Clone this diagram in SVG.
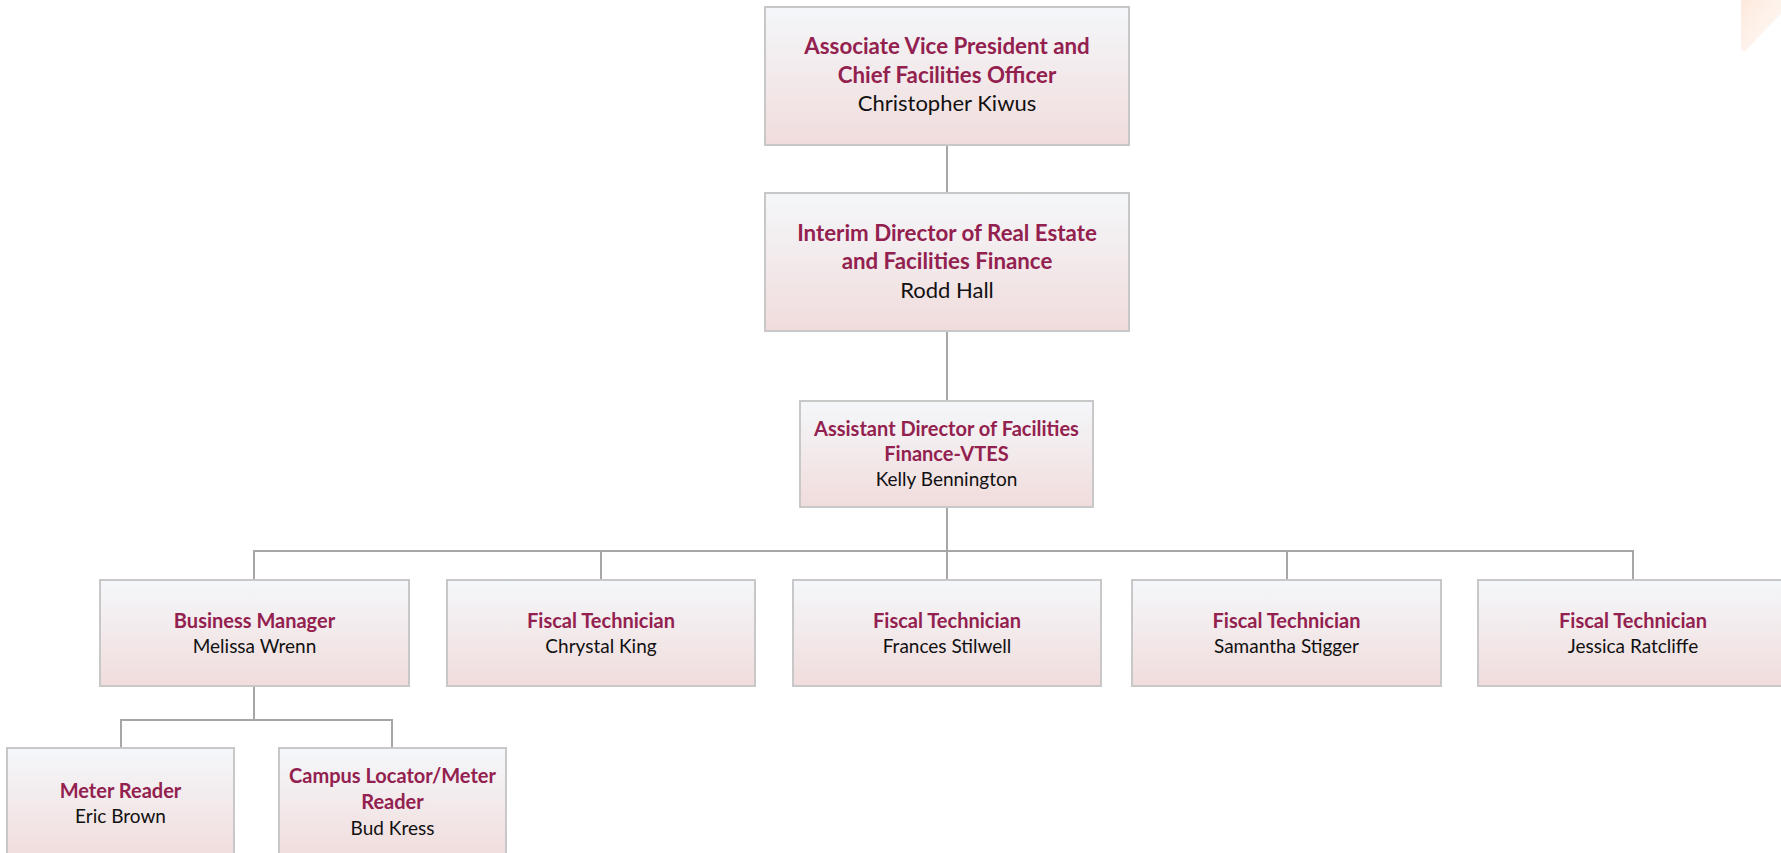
<svg xmlns="http://www.w3.org/2000/svg" width="1781" height="853" viewBox="0 0 1781 853">
<defs>
<linearGradient id="g" x1="0" y1="0" x2="0" y2="1">
<stop offset="0" stop-color="#f4f7fa"/>
<stop offset="1" stop-color="#f1dcdc"/>
</linearGradient>
<linearGradient id="deco" x1="0" y1="0" x2="1" y2="1">
<stop offset="0" stop-color="#fbd9c4" stop-opacity="0.6"/>
<stop offset="1" stop-color="#fde9de" stop-opacity="0.25"/>
</linearGradient>
<style>
.box{fill:url(#g);stroke:#c8c8c8;stroke-width:2}
.t{font-family:Lato,"Liberation Sans",sans-serif;font-weight:bold;fill:#93214f;text-anchor:middle}
.n{font-family:Lato,"Liberation Sans",sans-serif;fill:#111;text-anchor:middle}
.bt{font-size:22.3px}
.bn{font-size:22px}
.st{font-size:20px}
.sn{font-size:19px}
.con{fill:none;stroke:#a6a6a6;stroke-width:2}
</style>
</defs>
<rect width="1781" height="853" fill="#ffffff"/>
<polygon points="1741,0 1781,0 1781,14 1744,52 1741,48" fill="url(#deco)"/>
<g id="connectors">
<path class="con" d="M947,145 V193"/>
<path class="con" d="M947,331 V401"/>
<path class="con" d="M947,507 V551"/>
<path class="con" d="M254,580 V551 H1633 V580"/>
<path class="con" d="M601,551 V580"/>
<path class="con" d="M947,551 V580"/>
<path class="con" d="M1287,551 V580"/>
<path class="con" d="M254,686 V720"/>
<path class="con" d="M121,748 V720 H392 V748"/>
</g>
<g id="avp">
<rect class="box" x="765" y="7" width="364" height="138"/>
<text class="t bt" x="947" y="54">Associate Vice President and</text>
<text class="t bt" x="947" y="83">Chief Facilities Officer</text>
<text class="n bn" x="947" y="111">Christopher Kiwus</text>
</g>
<g id="interim">
<rect class="box" x="765" y="193" width="364" height="138"/>
<text class="t bt" x="947" y="241">Interim Director of Real Estate</text>
<text class="t bt" x="947" y="269">and Facilities Finance</text>
<text class="n bn" x="947" y="298">Rodd Hall</text>
</g>
<g id="asst">
<rect class="box" x="800" y="401" width="293" height="106"/>
<text class="t st" x="946.5" y="436">Assistant Director of Facilities</text>
<text class="t st" x="946.5" y="461">Finance-VTES</text>
<text class="n sn" x="946.5" y="486">Kelly Bennington</text>
</g>
<g id="bm">
<rect class="box" x="100" y="580" width="309" height="106"/>
<text class="t st" x="254.5" y="628">Business Manager</text>
<text class="n sn" x="254.5" y="653">Melissa Wrenn</text>
</g>
<g id="ft1">
<rect class="box" x="447" y="580" width="308" height="106"/>
<text class="t st" x="601" y="628">Fiscal Technician</text>
<text class="n sn" x="601" y="653">Chrystal King</text>
</g>
<g id="ft2">
<rect class="box" x="793" y="580" width="308" height="106"/>
<text class="t st" x="947" y="628">Fiscal Technician</text>
<text class="n sn" x="947" y="653">Frances Stilwell</text>
</g>
<g id="ft3">
<rect class="box" x="1132" y="580" width="309" height="106"/>
<text class="t st" x="1286.5" y="628">Fiscal Technician</text>
<text class="n sn" x="1286.5" y="653">Samantha Stigger</text>
</g>
<g id="ft4">
<rect class="box" x="1478" y="580" width="310" height="106"/>
<text class="t st" x="1633" y="628">Fiscal Technician</text>
<text class="n sn" x="1633" y="653">Jessica Ratcliffe</text>
</g>
<g id="meter">
<rect class="box" x="7" y="748" width="227" height="112"/>
<text class="t st" x="120.5" y="798">Meter Reader</text>
<text class="n sn" x="120.5" y="823">Eric Brown</text>
</g>
<g id="campus">
<rect class="box" x="279" y="748" width="227" height="112"/>
<text class="t st" x="392.5" y="783">Campus Locator/Meter</text>
<text class="t st" x="392.5" y="809">Reader</text>
<text class="n sn" x="392.5" y="835">Bud Kress</text>
</g>
</svg>
